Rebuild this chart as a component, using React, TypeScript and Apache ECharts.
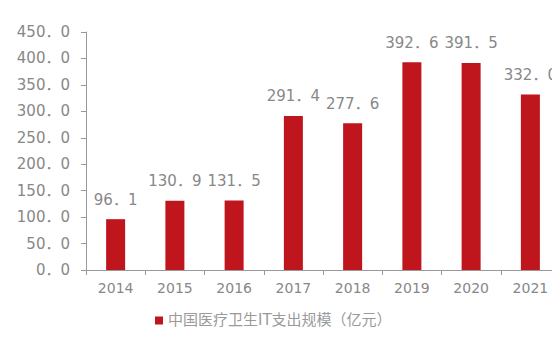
import React, { useEffect, useRef } from "react";
import * as echarts from "echarts";

const years = ["2014", "2015", "2016", "2017", "2018", "2019", "2020", "2021"];
const investment = [96.1, 130.9, 131.5, 291.4, 277.6, 392.6, 391.5, 332.0];
const seriesName = "中国医疗卫生IT支出规模（亿元）";

// one decimal, written with a full-width point
const fmt = (v: number) => v.toFixed(1).replace(".", "．");

export default function App() {
  const ref = useRef<HTMLDivElement>(null);
  useEffect(() => {
    if (!ref.current) return;
    const chart = echarts.init(ref.current, undefined, { renderer: "svg" });
    const font = "'DejaVu Sans', 'Noto Sans CJK SC', sans-serif";
    const valueText = { color: "#888", fontSize: 15, fontFamily: font };
    chart.setOption({
      animation: false,
      grid: { left: 86, top: 32, width: 476, height: 238 },
      legend: {
        bottom: 4,
        left: 150,
        itemWidth: 8,
        itemHeight: 8,
        icon: "rect",
        textStyle: { color: "#9a9a9a", fontSize: 15, fontFamily: font },
        data: [seriesName],
      },
      xAxis: {
        type: "category",
        data: years,
        axisLine: { lineStyle: { color: "#999" } },
        axisTick: { show: true, lineStyle: { color: "#999" } },
        axisLabel: { color: "#888", fontSize: 14, fontFamily: font, margin: 11 },
      },
      yAxis: {
        type: "value",
        min: 0,
        max: 450,
        interval: 50,
        axisLine: { show: true, lineStyle: { color: "#999" } },
        axisTick: { show: true, lineStyle: { color: "#999" } },
        splitLine: { show: false },
        axisLabel: { ...valueText, margin: 16, formatter: (v: number) => fmt(v) },
      },
      series: [
        {
          name: seriesName,
          type: "bar",
          data: investment,
          barWidth: 19,
          itemStyle: { color: "#BF151D" },
          label: {
            show: true,
            position: "top",
            distance: 12,
            ...valueText,
            formatter: (p: any) => fmt(p.value),
          },
        },
      ],
    });
    return () => chart.dispose();
  }, []);
  return <div ref={ref} style={{ width: 560, height: 337, marginLeft: -8, marginTop: -8 }} />;
}
